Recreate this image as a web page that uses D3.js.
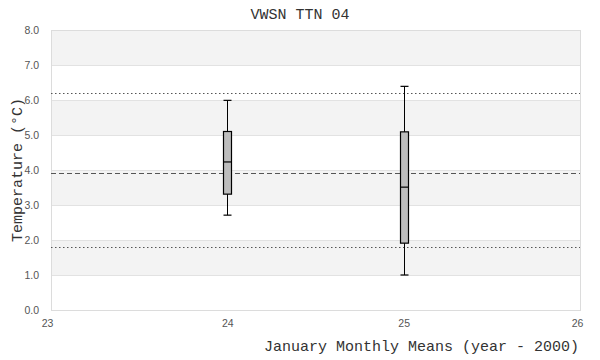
<!DOCTYPE html>
<html>
<head>
<meta charset="utf-8">
<script src="https://cdn.jsdelivr.net/npm/d3@7"></script>
<style>
  body { margin: 0; background: #fff; }
  svg { display: block; }
</style>
</head>
<body>
<script>
// January monthly means, one box per year
const years = [24, 25];
const whiskerLow = [2.71, 1.0];
const q1 = [3.31, 1.91];
const median = [4.23, 3.51];
const q3 = [5.10, 5.09];
const whiskerHigh = [5.99, 6.39];

// reference lines: mean (dashed) and upper/lower limits (dotted)
const refMean = 3.91;
const refLimits = [6.19, 1.80];

const yTicks = [0, 1, 2, 3, 4, 5, 6, 7, 8];
const xTicks = [23, 24, 25, 26];

const width = 600, height = 360;
const margin = { top: 30, right: 20, bottom: 50, left: 51 };

const svg = d3.select('body').append('svg')
  .attr('width', width)
  .attr('height', height);

const x = d3.scaleLinear().domain([23, 26]).range([margin.left, width - margin.right]);
const y = d3.scaleLinear().domain([0, 8]).range([height - margin.bottom, margin.top]);

// alternating background bands (odd unit rows shaded)
svg.append('g')
  .selectAll('rect')
  .data(yTicks.slice(0, -1).filter(v => v % 2 === 1))
  .enter().append('rect')
  .attr('x', x(23))
  .attr('width', x(26) - x(23))
  .attr('y', d => y(d + 1))
  .attr('height', d => y(d) - y(d + 1))
  .attr('fill', '#f3f3f3');

// grid lines
svg.append('g')
  .selectAll('line')
  .data(yTicks)
  .enter().append('line')
  .attr('x1', x(23)).attr('x2', x(26))
  .attr('y1', d => y(d) + 0.5).attr('y2', d => y(d) + 0.5)
  .attr('stroke', '#e2e2e2');

// plot frame
svg.append('rect')
  .attr('x', x(23) + 0.5)
  .attr('y', y(8) + 0.5)
  .attr('width', x(26) - x(23))
  .attr('height', y(0) - y(8))
  .attr('fill', 'none')
  .attr('stroke', '#dcdcdc');

// reference lines
svg.append('g')
  .selectAll('line')
  .data(refLimits)
  .enter().append('line')
  .attr('x1', x(23)).attr('x2', x(26))
  .attr('y1', d => Math.round(y(d)) + 0.5).attr('y2', d => Math.round(y(d)) + 0.5)
  .attr('stroke', '#555')
  .attr('stroke-dasharray', '1.5,2.5');

svg.append('line')
  .attr('x1', x(23)).attr('x2', x(26))
  .attr('y1', Math.round(y(refMean)) + 0.5).attr('y2', Math.round(y(refMean)) + 0.5)
  .attr('stroke', '#555')
  .attr('stroke-dasharray', '5,3');

// boxes
const boxW = 8;
const boxes = svg.append('g')
  .selectAll('g')
  .data(years.map((yr, i) => ({
    yr, lo: whiskerLow[i], q1: q1[i], med: median[i], q3: q3[i], hi: whiskerHigh[i]
  })))
  .enter().append('g')
  .attr('transform', d => `translate(${Math.round(x(d.yr)) + 0.5},0)`);

boxes.append('line')
  .attr('y1', d => y(d.lo)).attr('y2', d => y(d.hi))
  .attr('stroke', '#000');

boxes.append('rect')
  .attr('x', -boxW / 2)
  .attr('width', boxW)
  .attr('y', d => y(d.q3))
  .attr('height', d => y(d.q1) - y(d.q3))
  .attr('fill', '#bdbdbd')
  .attr('stroke', '#000')
  .attr('stroke-width', 1.2);

boxes.selectAll('.cap')
  .data(d => [d.lo, d.hi, d.med])
  .enter().append('line')
  .attr('x1', -boxW / 2).attr('x2', boxW / 2)
  .attr('y1', d => y(d)).attr('y2', d => y(d))
  .attr('stroke', '#000')
  .attr('stroke-width', 1.2);

// axes
const sans = 'Liberation Sans, Arial, sans-serif';
const yAxis = svg.append('g')
  .attr('transform', `translate(${x(23)},0)`)
  .call(d3.axisLeft(y).tickValues(yTicks).tickFormat(d3.format('.1f')).tickSize(0).tickPadding(12));
yAxis.select('.domain').remove();
yAxis.selectAll('text')
  .attr('fill', '#555')
  .style('font-family', sans)
  .style('font-size', '10.5px');

const xAxis = svg.append('g')
  .attr('transform', `translate(0,${y(0)})`)
  .call(d3.axisBottom(x).tickValues(xTicks).tickFormat(d3.format('d')).tickSize(0).tickPadding(10));
xAxis.select('.domain').remove();
xAxis.selectAll('text')
  .attr('fill', '#555')
  .style('font-family', sans)
  .style('font-size', '10.5px');
// end labels are kept inside the chart edges
xAxis.selectAll('text')
  .filter(d => d === 23).attr('dx', -4);
xAxis.selectAll('text')
  .filter(d => d === 26).attr('dx', -3);

// titles
const mono = 'Liberation Mono, monospace';
svg.append('text')
  .attr('x', 300).attr('y', 19)
  .attr('text-anchor', 'middle')
  .style('font-family', mono)
  .style('font-size', '15px')
  .attr('fill', '#333')
  .text('VWSN TTN 04');

svg.append('text')
  .attr('transform', `translate(22,${170}) rotate(-90)`)
  .attr('text-anchor', 'middle')
  .style('font-family', mono)
  .style('font-size', '15px')
  .attr('fill', '#333')
  .text('Temperature (°C)');

svg.append('text')
  .attr('x', 579).attr('y', 351)
  .attr('text-anchor', 'end')
  .style('font-family', mono)
  .style('font-size', '15px')
  .attr('fill', '#333')
  .text('January Monthly Means (year - 2000)');
</script>
</body>
</html>
